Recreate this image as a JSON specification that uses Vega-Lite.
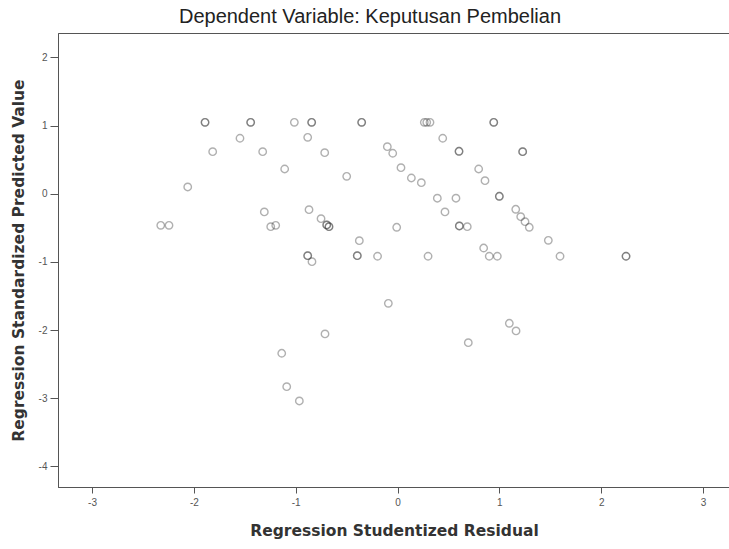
{
  "$schema": "https://vega.github.io/schema/vega-lite/v6.json",
  "width": 672,
  "height": 454,
  "autosize": {"type": "none"},
  "padding": {"left": 58, "top": 33, "right": 0, "bottom": 62},
  "background": "white",
  "config": {
    "view": {"stroke": "#555", "strokeWidth": 1},
    "font": "Liberation Sans"
  },
  "title": {
    "text": "Dependent Variable: Keputusan Pembelian",
    "font": "Liberation Sans",
    "fontSize": 20,
    "fontWeight": "normal",
    "color": "#222",
    "anchor": "middle",
    "dx": -24,
    "offset": 6
  },
  "data": {
    "values": [
      {"x": -1.890, "y": 1.047}, {"x": -1.890, "y": 1.047},
      {"x": -1.442, "y": 1.047}, {"x": -1.442, "y": 1.047},
      {"x": -1.013, "y": 1.047},
      {"x": -0.843, "y": 1.047}, {"x": -0.843, "y": 1.047},
      {"x": -0.352, "y": 1.047}, {"x": -0.352, "y": 1.047},
      {"x": -1.547, "y": 0.813},
      {"x": -0.882, "y": 0.827},
      {"x": -1.815, "y": 0.616},
      {"x": -1.324, "y": 0.616},
      {"x": -0.715, "y": 0.601},
      {"x": -1.108, "y": 0.362},
      {"x": -0.499, "y": 0.255},
      {"x": -2.060, "y": 0.098},
      {"x": -1.308, "y": -0.268},
      {"x": -0.869, "y": -0.235},
      {"x": -2.325, "y": -0.464},
      {"x": -2.244, "y": -0.464},
      {"x": -1.245, "y": -0.484},
      {"x": -1.196, "y": -0.464},
      {"x": -0.751, "y": -0.367},
      {"x": -0.695, "y": -0.459}, {"x": -0.695, "y": -0.459},
      {"x": -0.673, "y": -0.484}, {"x": -0.673, "y": -0.484},
      {"x": -0.375, "y": -0.689},
      {"x": -0.882, "y": -0.909}, {"x": -0.882, "y": -0.909},
      {"x": -0.840, "y": -0.998},
      {"x": -0.395, "y": -0.909}, {"x": -0.395, "y": -0.909},
      {"x": -0.196, "y": -0.918},
      {"x": 0.263, "y": 1.047},
      {"x": 0.287, "y": 1.047},
      {"x": 0.319, "y": 1.047},
      {"x": 0.945, "y": 1.047}, {"x": 0.945, "y": 1.047},
      {"x": 0.444, "y": 0.813},
      {"x": -0.100, "y": 0.689},
      {"x": -0.047, "y": 0.593},
      {"x": 0.604, "y": 0.622}, {"x": 0.604, "y": 0.622},
      {"x": 1.229, "y": 0.616}, {"x": 1.229, "y": 0.616},
      {"x": 0.034, "y": 0.381},
      {"x": 0.136, "y": 0.230},
      {"x": 0.234, "y": 0.161},
      {"x": 0.797, "y": 0.362},
      {"x": 0.859, "y": 0.191},
      {"x": 0.391, "y": -0.067},
      {"x": 0.574, "y": -0.067},
      {"x": 1.000, "y": -0.038}, {"x": 1.000, "y": -0.038},
      {"x": 0.466, "y": -0.268},
      {"x": 1.161, "y": -0.229},
      {"x": 1.210, "y": -0.337},
      {"x": 1.252, "y": -0.411},
      {"x": 1.294, "y": -0.493},
      {"x": -0.008, "y": -0.493},
      {"x": 0.607, "y": -0.474}, {"x": 0.607, "y": -0.474},
      {"x": 0.685, "y": -0.484},
      {"x": 1.481, "y": -0.684},
      {"x": 0.300, "y": -0.918},
      {"x": 0.846, "y": -0.797},
      {"x": 0.901, "y": -0.918},
      {"x": 0.980, "y": -0.918},
      {"x": 1.596, "y": -0.918},
      {"x": 2.244, "y": -0.918}, {"x": 2.244, "y": -0.918},
      {"x": -0.090, "y": -1.608},
      {"x": -0.712, "y": -2.058},
      {"x": -1.137, "y": -2.341},
      {"x": -1.088, "y": -2.831},
      {"x": -0.964, "y": -3.041},
      {"x": 0.695, "y": -2.186},
      {"x": 1.098, "y": -1.901},
      {"x": 1.164, "y": -2.014}
    ]
  },
  "mark": {
    "type": "point",
    "shape": "circle",
    "filled": false,
    "size": 55,
    "stroke": "#333",
    "strokeWidth": 1.4,
    "strokeOpacity": 0.55
  },
  "encoding": {
    "x": {
      "field": "x",
      "type": "quantitative",
      "scale": {"domain": [-3.334, 3.265], "nice": false, "zero": false},
      "axis": {
        "title": "Regression Studentized Residual",
        "values": [-3, -2, -1, 0, 1, 2, 3],
        "labelExpr": "'' + datum.value",
        "grid": false,
        "domainColor": "#555",
        "tickColor": "#555",
        "tickSize": 6,
        "labelPadding": 4,
        "labelFont": "Liberation Sans",
        "labelFontSize": 10,
        "labelColor": "#555",
        "titleFont": "DejaVu Sans",
        "titleFontSize": 15.5,
        "titleFontWeight": "bold",
        "titleColor": "#333",
        "titlePadding": 16
      }
    },
    "y": {
      "field": "y",
      "type": "quantitative",
      "scale": {"domain": [-4.303, 2.357], "nice": false, "zero": false},
      "axis": {
        "title": "Regression Standardized Predicted Value",
        "values": [-4, -3, -2, -1, 0, 1, 2],
        "labelExpr": "'' + datum.value",
        "grid": false,
        "domainColor": "#555",
        "tickColor": "#555",
        "tickSize": 8,
        "labelPadding": 3,
        "labelFont": "Liberation Sans",
        "labelFontSize": 10,
        "labelColor": "#555",
        "titleFont": "DejaVu Sans",
        "titleFontSize": 15.5,
        "titleFontWeight": "bold",
        "titleColor": "#333",
        "titlePadding": 12
      }
    }
  }
}
